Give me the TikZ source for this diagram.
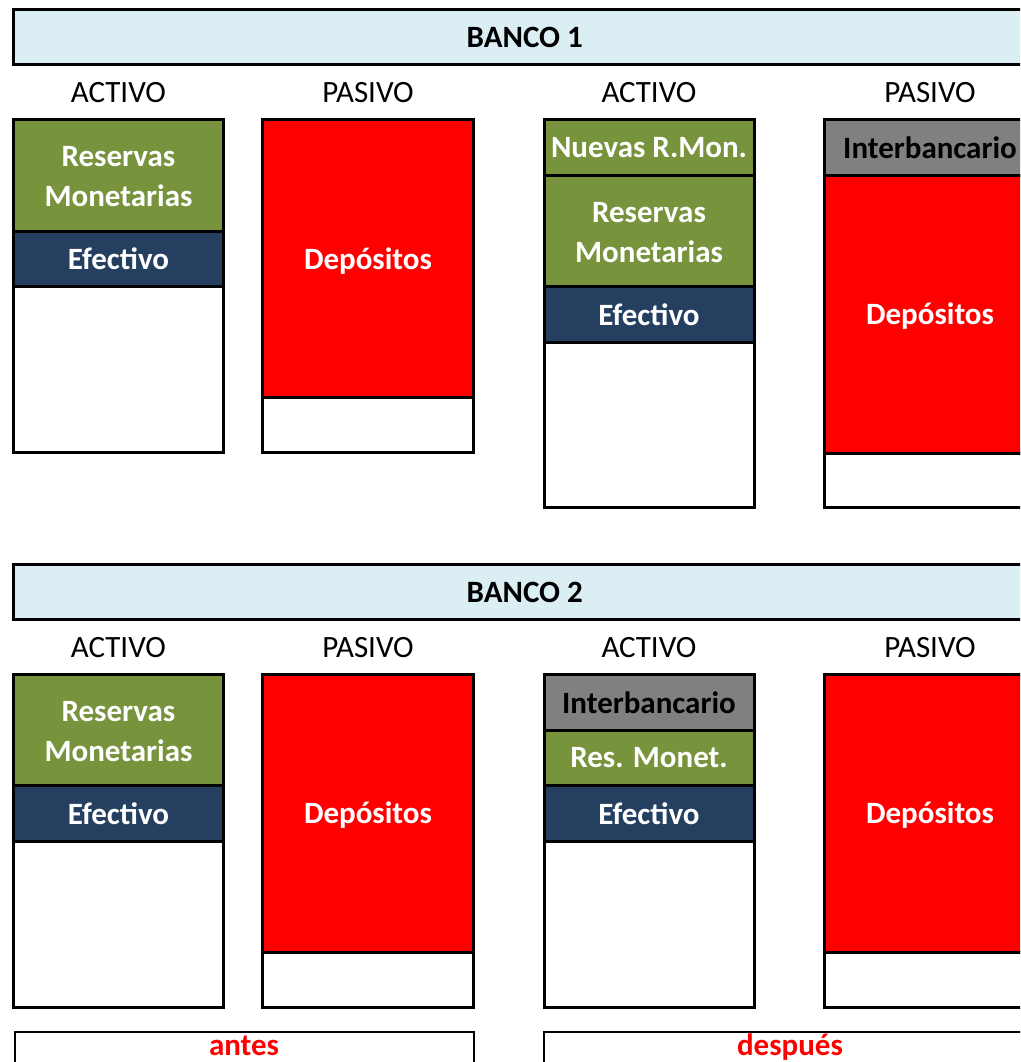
\documentclass[tikz,border=0pt]{standalone}
\usepackage{fontspec}
\setmainfont{Carlito}
\usepackage{tikz}
\definecolor{hdrblue}{HTML}{DAEEF3}
\definecolor{resgreen}{HTML}{77933C}
\definecolor{efenavy}{HTML}{243F60}
\definecolor{intergray}{HTML}{808080}
\definecolor{depred}{HTML}{FF0000}
\tikzset{
  cell/.style={draw=black, line width=3pt},
  boxtxt/.style={font=\fontsize{31}{40}\selectfont\bfseries, align=center, inner sep=0pt},
  coltxt/.style={font=\fontsize{31}{40}\selectfont, inner sep=0pt},
  lowtxt/.style={font=\fontsize{31}{40}\selectfont\bfseries, text=depred, anchor=base, inner sep=0pt}
}

\begin{document}
\begin{tikzpicture}[x=1pt, y=-1pt]
		%%%%% START %%%%%
		\useasboundingbox (0, 0) rectangle (1020, 1062);
		\clip (0, 0) rectangle (1020, 1062);
		
		%% banco 1
		\draw[cell, fill=hdrblue] (13.5, 10) rectangle (1035.5, 65);
		\node[boxtxt] (ban1) at (524.75, 37.5) {BANCO 1};
		
		\node[coltxt] (act1a) at (118.5, 93) {ACTIVO};
		\node[coltxt] (pas1a) at (368, 93) {PASIVO};
		\node[coltxt] (act1b) at (649, 93) {ACTIVO};
		\node[coltxt] (pas1b) at (930, 93) {PASIVO};
		
		\draw[cell, fill=resgreen] (13.5, 120) rectangle (223.5, 231);
		\draw[cell, fill=efenavy] (13.5, 231) rectangle (223.5, 286.5);
		\draw[cell, fill=white] (13.5, 286.5) rectangle (223.5, 452.5);
		\node[boxtxt, text=white] (res1a) at (118.5, 177) {Reservas\\Monetarias};
		\node[boxtxt, text=white] (efe1a) at (118.5, 259) {Efectivo};
		
		\draw[cell, fill=depred] (262.5, 120) rectangle (473.5, 397.5);
		\draw[cell, fill=white] (262.5, 397.5) rectangle (473.5, 452.5);
		\node[boxtxt, text=white] (dep1a) at (368, 261) {Depósitos};
		
		\draw[cell, fill=resgreen] (544, 120) rectangle (754, 175.5);
		\draw[cell, fill=resgreen] (544, 175.5) rectangle (754, 286.5);
		\draw[cell, fill=efenavy] (544, 286.5) rectangle (754, 342);
		\draw[cell, fill=white] (544, 342) rectangle (754, 507.5);
		\node[boxtxt, text=white] (nue1b) at (649, 148) {Nuevas R.Mon.};
		\node[boxtxt, text=white] (res1b) at (649, 232.5) {Reservas\\Monetarias};
		\node[boxtxt, text=white] (efe1b) at (649, 314.5) {Efectivo};
		
		\draw[cell, fill=intergray] (824.5, 120) rectangle (1035.5, 175.5);
		\draw[cell, fill=depred] (824.5, 175.5) rectangle (1035.5, 453);
		\draw[cell, fill=white] (824.5, 453) rectangle (1035.5, 507.5);
		\node[boxtxt] (int1b) at (930, 148) {Interbancario};
		\node[boxtxt, text=white] (dep1b) at (930, 316.5) {Depósitos};
		
		%% banco 2
		\draw[cell, fill=hdrblue] (13.5, 564) rectangle (1035.5, 619.5);
		\node[boxtxt] (ban2) at (524.75, 592) {BANCO 2};
		
		\node[coltxt] (act2a) at (118.5, 647.5) {ACTIVO};
		\node[coltxt] (pas2a) at (368, 647.5) {PASIVO};
		\node[coltxt] (act2b) at (649, 647.5) {ACTIVO};
		\node[coltxt] (pas2b) at (930, 647.5) {PASIVO};
		
		\draw[cell, fill=resgreen] (13.5, 674.5) rectangle (223.5, 785.5);
		\draw[cell, fill=efenavy] (13.5, 785.5) rectangle (223.5, 841);
		\draw[cell, fill=white] (13.5, 841) rectangle (223.5, 1007);
		\node[boxtxt, text=white] (res2a) at (118.5, 731.5) {Reservas\\Monetarias};
		\node[boxtxt, text=white] (efe2a) at (118.5, 813.5) {Efectivo};
		
		\draw[cell, fill=depred] (262.5, 674.5) rectangle (473.5, 952);
		\draw[cell, fill=white] (262.5, 952) rectangle (473.5, 1007);
		\node[boxtxt, text=white] (dep2a) at (368, 815.5) {Depósitos};
		
		\draw[cell, fill=intergray] (544, 674.5) rectangle (754, 730);
		\draw[cell, fill=resgreen] (544, 730) rectangle (754, 785.5);
		\draw[cell, fill=efenavy] (544, 785.5) rectangle (754, 841);
		\draw[cell, fill=white] (544, 841) rectangle (754, 1007);
		\node[boxtxt] (int2b) at (649, 702.5) {Interbancario};
		\node[boxtxt, text=white] (res2b) at (649, 758) {Res. Monet.};
		\node[boxtxt, text=white] (efe2b) at (649, 813.5) {Efectivo};
		
		\draw[cell, fill=depred] (824.5, 674.5) rectangle (1035.5, 952);
		\draw[cell, fill=white] (824.5, 952) rectangle (1035.5, 1007);
		\node[boxtxt, text=white] (dep2b) at (930, 815.5) {Depósitos};
		
		%% antes / despues
		\draw[line width=2pt] (14.5, 1032) rectangle (474, 1080);
		\draw[line width=2pt] (544, 1032) rectangle (1036, 1080);
		\node[lowtxt] (antes) at (244, 1055) {antes};
		\node[lowtxt] (despues) at (790, 1055) {después};
		
		%%%%% END %%%%%
	\end{tikzpicture}
\end{document}
